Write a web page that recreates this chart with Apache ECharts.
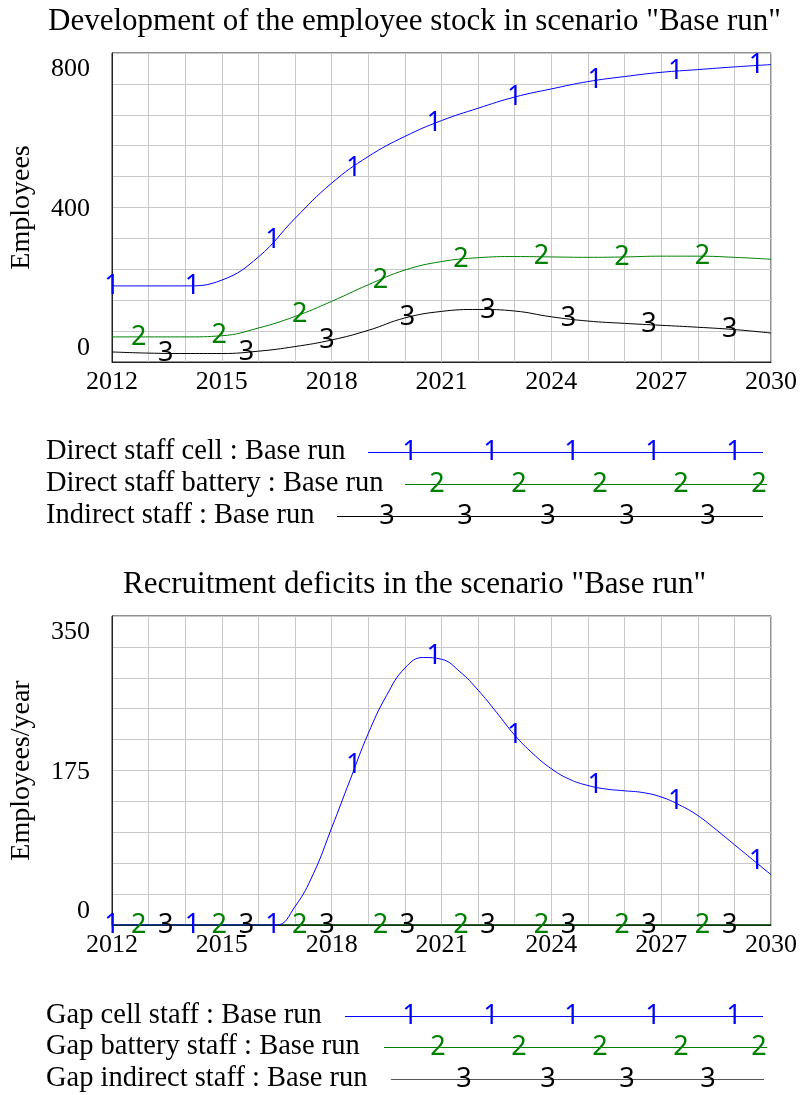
<!DOCTYPE html>
<html>
<head>
<meta charset="utf-8">
<script src="https://cdn.jsdelivr.net/npm/echarts@6/dist/echarts.min.js"></script>
<style>
  html, body { margin: 0; padding: 0; background: #fff; }
  #chart { width: 801px; height: 1095px; }
</style>
</head>
<body>
<div id="chart"></div>
<script>
// yearly values
const years = [2012, 2013, 2014, 2015, 2016, 2017, 2018, 2019, 2020, 2021, 2022, 2023, 2024, 2025, 2026, 2027, 2028, 2029, 2030];
const directCell    = [197, 197, 197, 212, 272, 372, 463, 532, 584, 625, 657, 686, 707, 726, 739, 750, 757, 764, 770];
const directBattery = [65, 65, 65, 68, 88, 118, 157, 200, 238, 260, 270, 273, 272, 271, 272, 274, 274, 271, 266];
const indirectStaff = [26, 23, 22, 22, 28, 40, 57, 82, 114, 131, 136, 132, 117, 106, 100, 95, 90, 84, 75];
const gapBattery    = [0, 0, 0, 0, 0, 0, 0, 0, 0, 0, 0, 0, 0, 0, 0, 0, 0, 0, 0];
const gapIndirect   = [0, 0, 0, 0, 0, 0, 0, 0, 0, 0, 0, 0, 0, 0, 0, 0, 0, 0, 0];
// gap cell staff has a sharp peak, so it is read every half year
const halfYears = [2012, 2012.5, 2013, 2013.5, 2014, 2014.5, 2015, 2015.5, 2016, 2016.5, 2017, 2017.5, 2018, 2018.5,
                   2019, 2019.5, 2020, 2020.5, 2021, 2021.5, 2022, 2022.5, 2023, 2023.5, 2024, 2024.5, 2025, 2025.5,
                   2026, 2026.5, 2027, 2027.5, 2028, 2028.5, 2029, 2029.5, 2030];
const gapCell   = [0, 0, 0, 0, 0, 0, 0, 0, 0, 0, 21, 58, 110, 164,
                   217, 260, 291, 303, 301, 287, 266, 241, 215, 194, 177, 165, 158, 154,
                   152, 150, 145, 136, 124, 108, 91, 74, 57];

// where the number markers sit (years) and the values there
const marks1X = [2012, 2014.2, 2016.4, 2018.6, 2020.8, 2023.0, 2025.2, 2027.4, 2029.6];
const marks2X = [2012.73, 2014.93, 2017.13, 2019.33, 2021.53, 2023.73, 2025.93, 2028.13];
const marks3X = [2013.47, 2015.67, 2017.87, 2020.07, 2022.27, 2024.47, 2026.67, 2028.87];
const directCellMarks    = [197, 197, 315, 502, 618, 686, 729, 752, 767];
const directBatteryMarks = [65, 68, 124, 212, 266, 273, 272, 274];
const indirectStaffMarks = [22, 25, 55, 116, 135, 112, 97, 84];
const gapCellMarks       = [0, 0, 0, 181, 304, 215, 158, 140, 72];
const gapBatteryMarks    = [0, 0, 0, 0, 0, 0, 0, 0];
const gapIndirectMarks   = [0, 0, 0, 0, 0, 0, 0, 0];

const xTicks = [2012, 2015, 2018, 2021, 2024, 2027, 2030];
const yTicksTop = [0, 400, 800];
const yTicksBottom = [0, 175, 350];

const BLUE = '#0000ff', GREEN = '#008000', BLACK = '#000000';
const SERIF = 'Liberation Serif';
const MARKFONT = 'Noto Sans';

const zip = (xs, ys) => xs.map((x, i) => [x, ys[i]]);

function lineSeries(idx, xs, vals, color) {
  return {
    type: 'line', xAxisIndex: idx, yAxisIndex: idx,
    data: zip(xs, vals), smooth: 0.45, symbol: 'none',
    lineStyle: { color: color, width: 1 }, silent: true
  };
}
function markSeries(idx, xs, vals, color, digit) {
  return {
    type: 'scatter', xAxisIndex: idx, yAxisIndex: idx,
    data: zip(xs, vals), symbolSize: 1,
    itemStyle: { color: 'rgba(0,0,0,0)', opacity: 1 }, silent: true, z: 5,
    label: { show: true, position: [0.5, 0.5], align: 'center', verticalAlign: 'middle',
             formatter: digit, color: color, opacity: 1, textBorderWidth: 0,
             fontFamily: MARKFONT, fontSize: 27 }
  };
}

function xAxis(idx) {
  return {
    type: 'value', gridIndex: idx, min: 2012, max: 2030, interval: 1,
    axisLine: { show: true, lineStyle: { color: '#222' } },
    axisTick: { show: false },
    splitLine: { show: true, lineStyle: { color: '#c8c8c8', width: 1 } },
    axisLabel: {
      margin: 7, fontFamily: SERIF, fontSize: 26, color: '#000',
      formatter: v => xTicks.indexOf(v) >= 0 ? String(v) : ''
    }
  };
}
const richY = {
  t: { fontFamily: SERIF, fontSize: 26, color: '#000', padding: [32, 0, 0, 0] },
  m: { fontFamily: SERIF, fontSize: 26, color: '#000', padding: [4, 0, 0, 0] },
  b: { fontFamily: SERIF, fontSize: 26, color: '#000', padding: [0, 0, 28, 0] }
};
function yAxis(idx, max, ticks, name) {
  return {
    type: 'value', gridIndex: idx, min: 0, max: max, interval: max / 10,
    name: name, nameLocation: 'middle', nameGap: 76,
    nameTextStyle: { fontFamily: SERIF, fontSize: 28, color: '#000' },
    axisLine: { show: true, lineStyle: { color: '#222' } },
    axisTick: { show: false },
    splitLine: { show: true, lineStyle: { color: '#c8c8c8', width: 1 } },
    axisLabel: {
      margin: 22,
      formatter: v => v === ticks[2] ? '{t|' + v + '}' : v === ticks[1] ? '{m|' + v + '}' : v === ticks[0] ? '{b|' + v + '}' : '',
      rich: richY
    }
  };
}

// legend layout (Vensim style: name, then line with number markers)
const legendRows = [
  { name: 'Direct staff cell : Base run', color: BLUE, d: '1', y: 452, x1: 368, x2: 763, m: [410, 491, 572, 653, 734] },
  { name: 'Direct staff battery : Base run', color: GREEN, d: '2', y: 484, x1: 405, x2: 767, m: [437, 519, 600, 681, 759] },
  { name: 'Indirect staff : Base run', color: BLACK, d: '3', y: 516, x1: 337, x2: 763, m: [387, 465, 548, 627, 708] },
  { name: 'Gap cell staff : Base run', color: BLUE, d: '1', y: 1016, x1: 345, x2: 763, m: [410, 491, 572, 653, 734] },
  { name: 'Gap battery staff : Base run', color: GREEN, d: '2', y: 1047, x1: 384, x2: 767, m: [438, 519, 600, 681, 759] },
  { name: 'Gap indirect staff : Base run', color: BLACK, d: '3', y: 1079, x1: 391, x2: 764, m: [464, 548, 627, 708], line: '#555' }
];
const graphics = [];
legendRows.forEach(r => {
  graphics.push({ type: 'text', x: 46, y: r.y, silent: true,
    style: { text: r.name, fill: '#000', fontFamily: SERIF, fontSize: 28.5,
             align: 'left', verticalAlign: 'middle', textAlign: 'left', textVerticalAlign: 'middle' } });
  graphics.push({ type: 'line', silent: true,
    shape: { x1: r.x1, y1: r.y + 0.5, x2: r.x2, y2: r.y + 0.5 },
    style: { stroke: r.line || r.color, lineWidth: 1 } });
  r.m.forEach(mx => graphics.push({ type: 'text', x: mx, y: r.y, silent: true,
    style: { text: r.d, fill: r.color, fontFamily: MARKFONT, fontSize: 27,
             align: 'center', verticalAlign: 'middle', textAlign: 'center', textVerticalAlign: 'middle' } }));
});

const titleStyle = { fontFamily: SERIF, fontSize: 31, fontWeight: 'normal', color: '#000' };

const option = {
  animation: false,
  title: [
    { text: 'Development of the employee stock in scenario "Base run"', left: 48, top: 6, padding: 0, textStyle: titleStyle },
    { text: 'Recruitment deficits in the scenario "Base run"', left: 123, top: 569, padding: 0, textStyle: titleStyle }
  ],
  grid: [
    { left: 112, top: 53, width: 659, height: 309, outerBoundsMode: 'none', containLabel: false,
      show: true, borderColor: '#222', borderWidth: 1 },
    { left: 112, top: 616, width: 659, height: 309, outerBoundsMode: 'none', containLabel: false,
      show: true, borderColor: '#222', borderWidth: 1 }
  ],
  xAxis: [xAxis(0), xAxis(1)],
  yAxis: [yAxis(0, 800, yTicksTop, 'Employees'), yAxis(1, 350, yTicksBottom, 'Employees/year')],
  series: [
    lineSeries(0, years, indirectStaff, BLACK),
    lineSeries(0, years, directBattery, GREEN),
    lineSeries(0, years, directCell, BLUE),
    markSeries(0, marks3X, indirectStaffMarks, BLACK, '3'),
    markSeries(0, marks2X, directBatteryMarks, GREEN, '2'),
    markSeries(0, marks1X, directCellMarks, BLUE, '1'),
    lineSeries(1, years, gapIndirect, BLACK),
    lineSeries(1, years, gapBattery, GREEN),
    lineSeries(1, halfYears, gapCell, BLUE),
    markSeries(1, marks3X, gapIndirectMarks, BLACK, '3'),
    markSeries(1, marks2X, gapBatteryMarks, GREEN, '2'),
    markSeries(1, marks1X, gapCellMarks, BLUE, '1')
  ],
  graphic: graphics
};

const chart = echarts.init(document.getElementById('chart'));
chart.setOption(option);
</script>
</body>
</html>
